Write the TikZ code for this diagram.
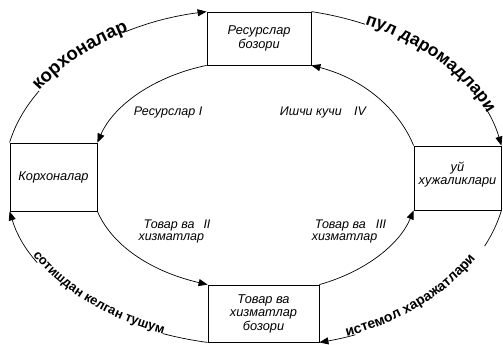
\documentclass[tikz,border=0pt]{standalone}
\usepackage{fontspec}
\setmainfont{Liberation Sans}
\newfontfamily\outerfont{Liberation Sans}
\usetikzlibrary{arrows.meta,decorations.text}
\newcommand\outerA{\outerfont\bfseries\fontsize{17.5}{19}\selectfont}
\newcommand\outerC{\outerfont\bfseries\fontsize{18.5}{20}\selectfont}
\newcommand\outerB{\outerfont\bfseries\fontsize{13}{15}\selectfont}
\newcommand\outerD{\outerfont\bfseries\fontsize{14}{16}\selectfont}
\begin{document}
\begin{tikzpicture}[x=1pt,y=-1pt,line width=0.7pt,
  >={Triangle[length=9pt,width=7pt]},
  box/.style={draw,line width=0.8pt,inner sep=0pt,align=center,
    font=\fontsize{12.8}{13.5}\selectfont\itshape},
  lbl/.style={inner sep=0pt,font=\fontsize{12.5}{12}\selectfont\itshape}]
\useasboundingbox (0,0) rectangle (503,345);

\node[box,minimum width=104pt,minimum height=53pt] (tb) at (259,38.5) {Ресурслар\\бозори};
\node[box,minimum width=87pt,minimum height=68pt] (lb) at (53.5,177) {Корхоналар};
\node[box,minimum width=87pt,minimum height=64pt] (rb) at (457.5,178) {уй\\хужаликлари\\[-4pt]\mbox{}};
\node[box,minimum width=111pt,minimum height=57pt] (bb) at (263.5,313.5) {Товар ва\\хизматлар\\бозори};

% outer cycle
\draw[->,dash pattern=on 60pt off 106pt on 500pt,
  postaction={decorate,decoration={text along path,text={|\outerC|корхоналар},
  text align={left indent=60pt}}}]
  (lb.north west) .. controls +(20,-66) and +(-99,13) .. (tb.north west);
\draw[->,dash pattern=on 55pt off 150pt on 500pt,
  postaction={decorate,decoration={text along path,text={|\outerA|пул даромадлари},
  text align={left indent=55pt}}}]
  (tb.north east) .. controls +(98,15) and +(-19,-66) .. (rb.north east);
\draw[<-,dash pattern=on 50pt off 146pt on 500pt,
  postaction={decorate,decoration={text along path,text={|\outerB|сотишдан келган тушум},
  text align={left indent=50pt}}}]
  (lb.south west) .. controls +(20,66) and +(-99,-13) .. (bb.south west);
\draw[<-,dash pattern=on 28pt off 160pt on 500pt,
  postaction={decorate,decoration={text along path,text={|\outerD|истемол харажатлари},
  text align={left indent=28pt}}}]
  (bb.south east) .. controls +(93,-16) and +(-19,63) .. (rb.south east);

% inner cycle
\draw[->] (tb.south west) .. controls +(-53,11) and +(16,-37) .. (lb.north east);
\draw[->] (rb.north west) .. controls +(-15,-37) and +(51,13) .. (tb.south east);
\draw[->] (lb.south east) .. controls +(16,37) and +(-52,-12) .. (bb.north west);
\draw[->] (bb.north east) .. controls +(46,-13) and +(-14,34) .. (rb.south west);

\node[lbl] (l1) at (168,112) {Ресурслар I};
\node[lbl] (l4) at (323,112) {Ишчи кучи\quad IV};
\node[lbl,align=left] (l2) at (174.5,231) {\hspace*{5pt}Товар ва\hspace{9pt}II\\хизматлар};
\node[lbl,align=left] (l3) at (349,231) {\hspace*{3pt}Товар ва\hspace{10pt}III\\хизматлар};
\end{tikzpicture}
\end{document}
